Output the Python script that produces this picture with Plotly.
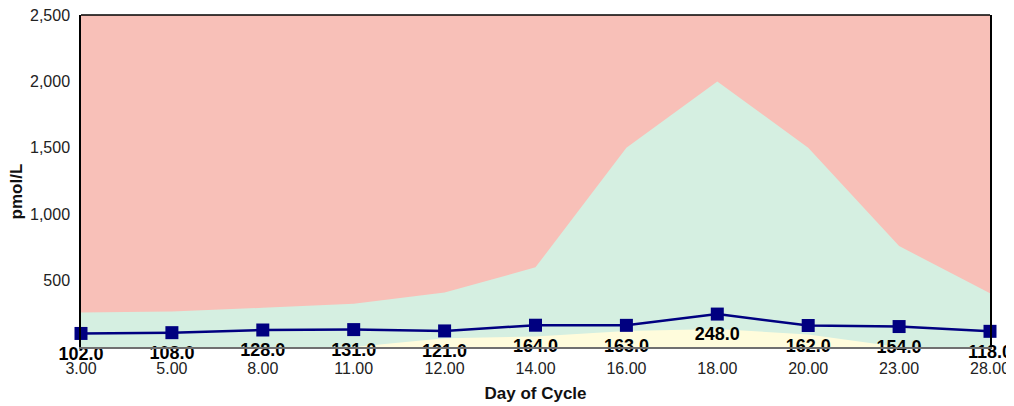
import plotly.graph_objects as go

days = ["3.00", "5.00", "8.00", "11.00", "12.00", "14.00", "16.00", "18.00", "20.00", "23.00", "28.00"]
values = [102, 108, 128, 131, 121, 164, 163, 248, 162, 154, 118]
upper_normal = [260, 268, 295, 325, 410, 600, 1500, 2000, 1500, 760, 405]
lower_normal = [0, 0, 0, 0, 65, 80, 120, 135, 95, 0, 0]
axis_max = [2500] * len(days)
y_ticks = [500, 1000, 1500, 2000, 2500]
y_tick_text = ["500", "1,000", "1,500", "2,000", "2,500"]

xi = list(range(len(days)))

fig = go.Figure()
fig.add_trace(go.Scatter(x=xi, y=axis_max, mode="none", fill="tozeroy",
                         fillcolor="#F8C0B8", hoverinfo="skip", showlegend=False))
fig.add_trace(go.Scatter(x=xi, y=upper_normal, mode="none", fill="tozeroy",
                         fillcolor="#D5EFE1", hoverinfo="skip", showlegend=False))
fig.add_trace(go.Scatter(x=xi, y=lower_normal, mode="none", fill="tozeroy",
                         fillcolor="#FFFCDC", hoverinfo="skip", showlegend=False))
fig.add_trace(go.Scatter(
    x=xi, y=values, mode="lines+markers",
    line=dict(color="#000080", width=2.5),
    marker=dict(symbol="square", size=13, color="#000080"),
    cliponaxis=False, showlegend=False))
# value labels below each marker
fig.add_trace(go.Scatter(
    x=xi, y=values, mode="markers+text",
    marker=dict(symbol="square", size=19, color="rgba(0,0,0,0)"),
    text=[f"{v:.1f}" for v in values],
    textposition="bottom center",
    textfont=dict(family="Arial", size=18, color="#000000", weight="bold"),
    hoverinfo="skip", cliponaxis=False, showlegend=False))

fig.update_layout(
    width=1006, height=398,
    margin=dict(l=73, r=24, t=7, b=59, autoexpand=False),
    paper_bgcolor="white", plot_bgcolor="white",
    font=dict(family="Arial", size=16, color="#222222"),
)
fig.update_xaxes(
    range=[0, 10], tickvals=xi, ticktext=days, showgrid=False, zeroline=False,
    showline=True, linecolor="#707070", linewidth=1.5, mirror=False,
    ticks="outside", ticklen=6, tickcolor="rgba(0,0,0,0)", automargin=False,
    ticklabeloverflow="allow",
    tickfont=dict(family="Arial", size=16, color="#222222"),
    title=dict(text="<b>Day of Cycle</b>", font=dict(family="Arial", size=17, color="#111111"), standoff=11),
)
fig.update_yaxes(
    range=[0, 2500], tickvals=y_ticks, ticktext=y_tick_text, showgrid=False, zeroline=False,
    showline=True, linecolor="#000000", linewidth=1.5, mirror=True,
    ticks="outside", ticklen=6, tickcolor="rgba(0,0,0,0)", automargin=False,
    ticklabeloverflow="allow",
    tickfont=dict(family="Arial", size=16, color="#222222"),
)
fig.add_annotation(text="<b>pmol/L</b>", xref="paper", yref="paper",
                   x=-0.071, y=0.47, xanchor="center", yanchor="middle",
                   textangle=-90, showarrow=False,
                   font=dict(family="Arial", size=17, color="#111111"))
fig.add_shape(type="line", xref="paper", yref="paper", x0=0, x1=1, y0=1, y1=1,
              line=dict(color="#000000", width=1.5))
fig.write_html("out.html")
